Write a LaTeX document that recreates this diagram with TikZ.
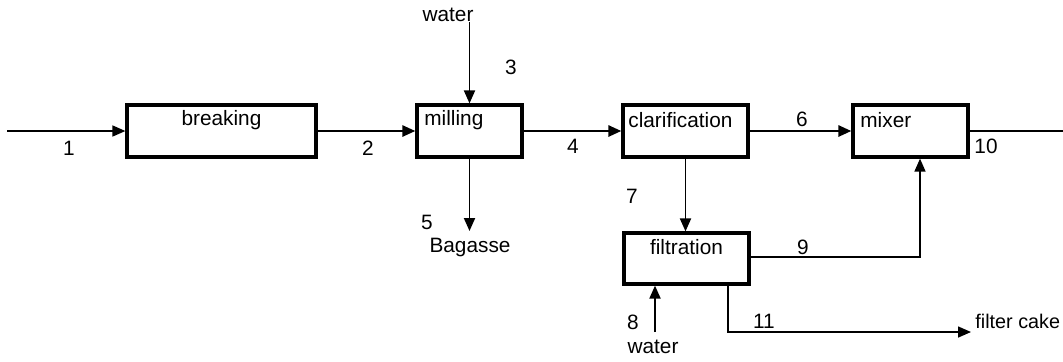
\documentclass[tikz,border=0pt]{standalone}
\usepackage{fontspec}
\setmainfont{Liberation Sans}
\usetikzlibrary{arrows.meta,calc}
\begin{document}
\begin{tikzpicture}[x=0.5pt,y=-0.5pt,
  box/.style={draw,line width=1.6pt,inner sep=0pt,minimum height=26pt},
  txt/.style={inner sep=0pt,font=\fontsize{10.4}{12}\selectfont},
  flow/.style={line width=1.3pt,-{Triangle[length=6.5pt,width=5.5pt]}},
  thinflow/.style={line width=0.8pt,-{Triangle[length=6.5pt,width=5.5pt]}},
  vflow/.style={line width=0.95pt,-{Triangle[length=6.5pt,width=5.5pt]}},
  plain/.style={line width=0.75pt}]
\useasboundingbox (0,0) rectangle (1063,361);
% boxes
\node[box,minimum width=94.5pt] (brk) at (221.5,131) {};
\node[box,minimum width=52.5pt] (mil) at (469.5,131) {};
\node[box,minimum width=62.5pt] (cla) at (685.5,131) {};
\node[box,minimum width=57.5pt] (mix) at (910.5,131) {};
\node[box,minimum width=62.5pt,minimum height=25.5pt] (fil) at (686.5,258.5) {};
% box texts
\node[txt] (brkT) at (221.5,120) {breaking};
\node[txt,anchor=west] (milT) at (424,120) {milling};
\node[txt,anchor=west] (claT) at (628,120) {clarification};
\node[txt,anchor=west] (mixT) at (860,120) {mixer};
\node[txt] (filT) at (686.5,247) {filtration};
% free ends
\coordinate (in1) at (7,131);
\coordinate (w3) at (469.5,22);
\coordinate (b5) at (469.5,231);
\coordinate (out10) at (1063,131);
\coordinate (c9) at (920,257);
\coordinate (w8) at (655,332);
\coordinate (c11) at (728,332);
\coordinate (fc) at (971,332);
% connectors
\draw[thinflow] (in1) -- (brk.west);
\draw[flow] (brk.east) -- (mil.west);
\draw[flow] (mil.east) -- (cla.west);
\draw[flow] (cla.east) -- (mix.west);
\draw[plain] (mix.east) -- (out10);
\draw[vflow] (w3) -- (mil.north);
\draw[vflow] (mil.south) -- (b5);
\draw[vflow] (cla.south) -- (cla.south |- fil.north);
\draw[plain,-{Triangle[length=6.5pt,width=5.5pt]}] (fil.east |- c9) -- (c9) -- (c9 |- mix.south);
\draw[vflow] (w8) -- (w8 |- fil.south);
\draw[plain,-{Triangle[length=6.5pt,width=5.5pt]}] (c11 |- fil.south) -- (c11) -- (fc);
% labels
\node[txt] (l1) at (69,148) {1};
\node[txt] (l2) at (368,148) {2};
\node[txt] (l3) at (511,67) {3};
\node[txt] (l4) at (573,146) {4};
\node[txt] (l5) at (427,222) {5};
\node[txt] (l6) at (802,119) {6};
\node[txt] (l7) at (632,196) {7};
\node[txt] (l8) at (633,322) {8};
\node[txt] (l9) at (803,247) {9};
\node[txt] (l10) at (986,146) {10};
\node[txt] (l11) at (764,321) {11};
\node[txt] (wat1) at (448,15) {water};
\node[txt] (bag) at (470,247) {Bagasse};
\node[txt] (wat2) at (653,347) {water};
\node[txt,anchor=west,font=\fontsize{9.9}{12}\selectfont] (cake) at (975,321) {filter cake};
\end{tikzpicture}
\end{document}
